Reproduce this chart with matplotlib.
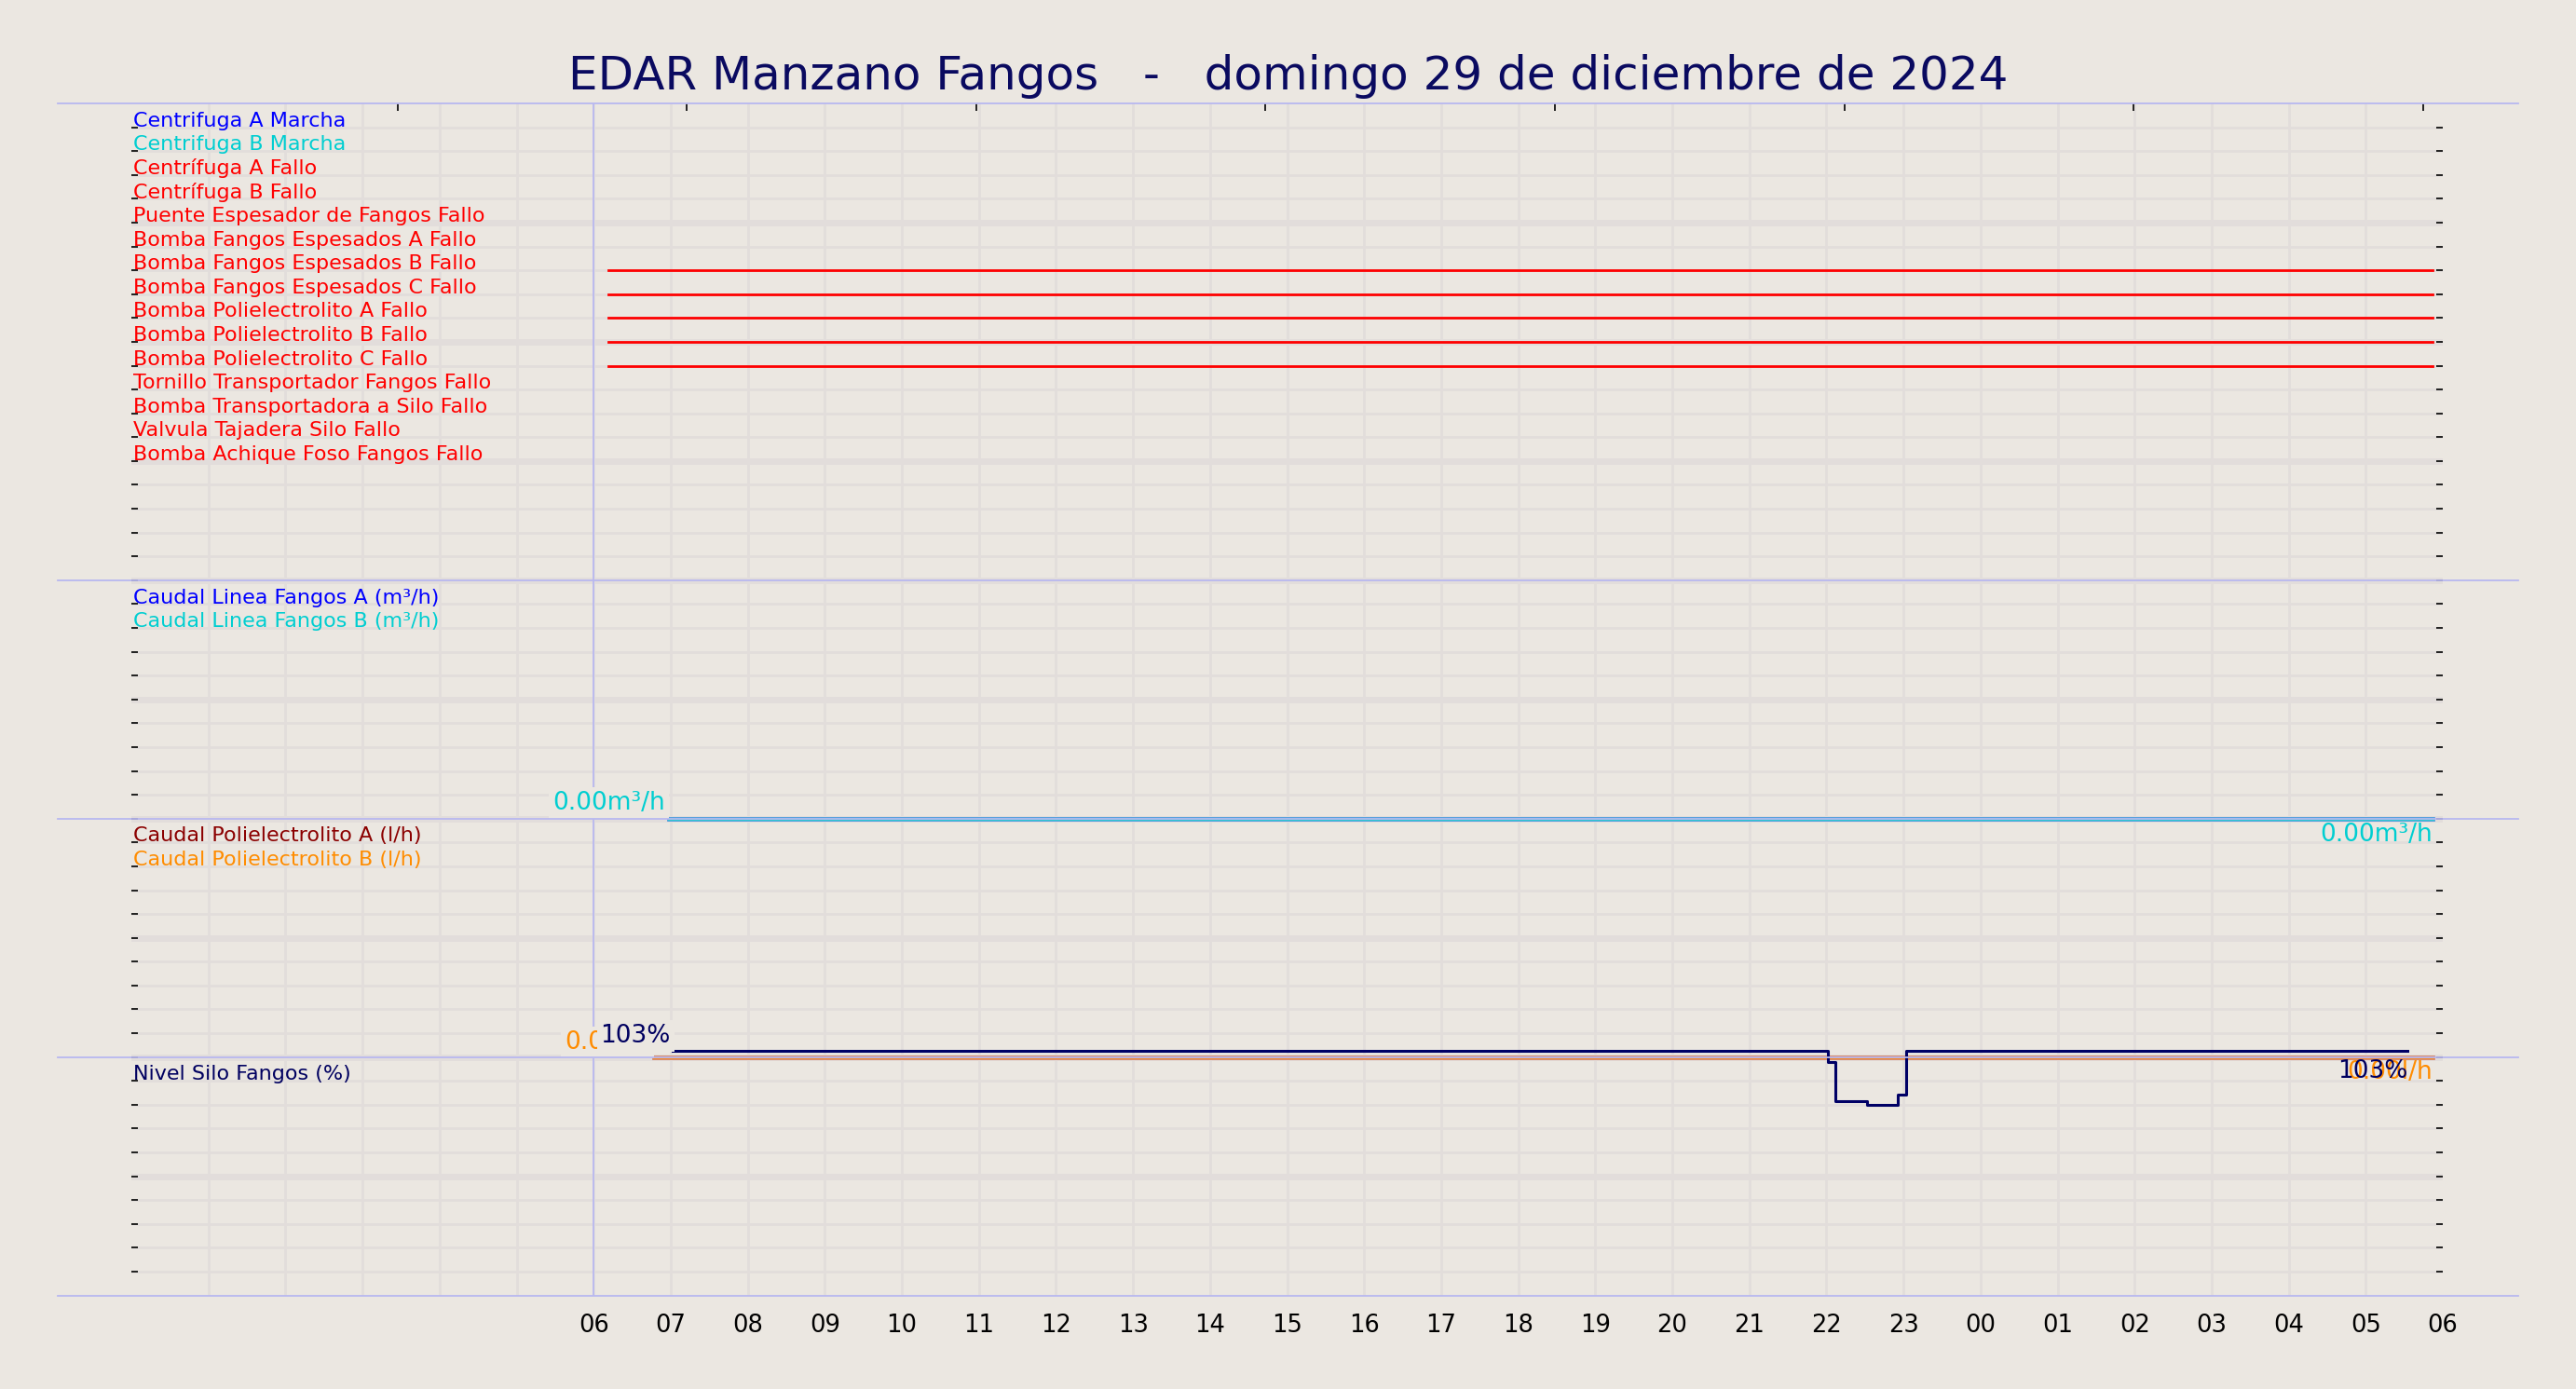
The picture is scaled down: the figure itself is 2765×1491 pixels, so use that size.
import matplotlib
matplotlib.use("Agg")
import matplotlib.pyplot as plt
from matplotlib.lines import Line2D
import numpy as np

BG = "#ebe7e1"
GRID = "#e2dddb"
SEP = "#b8b8f0"

TITLE = "EDAR Manzano Fangos   -   domingo 29 de diciembre de 2024"
TICK_LABELS = ["06", "07", "08", "09", "10", "11", "12", "13", "14", "15", "16", "17", "18",
               "19", "20", "21", "22", "23", "00", "01", "02", "03", "04", "05", "06"]

# panel 1: digital signals (row index from top, label, colour)
DIGITAL_LABELS = [
    "Centrifuga A Marcha", "Centrifuga B Marcha", "Centrífuga A Fallo", "Centrífuga B Fallo",
    "Puente Espesador de Fangos Fallo", "Bomba Fangos Espesados A Fallo",
    "Bomba Fangos Espesados B Fallo", "Bomba Fangos Espesados C Fallo",
    "Bomba Polielectrolito A Fallo", "Bomba Polielectrolito B Fallo",
    "Bomba Polielectrolito C Fallo", "Tornillo Transportador Fangos Fallo",
    "Bomba Transportadora a Silo Fallo", "Valvula Tajadera Silo Fallo",
    "Bomba Achique Foso Fangos Fallo",
]
DIGITAL_COLORS = ["blue", "darkturquoise"] + ["red"] * 13
ACTIVE_ROWS = [6, 7, 8, 9, 10]          # signals on during the day
ACTIVE_START, ACTIVE_END = 6.19, 29.87  # hours since 00:00

# panel 2: caudal linea fangos (m3/h)
LINEA_T = [6.98, 29.87]
LINEA_A = [0.0, 0.0]
LINEA_B = [0.0, 0.0]

# panel 3: caudal polielectrolito (l/h)
POLI_T = [6.78, 29.87]
POLI_A = [0.0, 0.0]
POLI_B = [0.0, 0.0]

# panel 4: nivel silo (%)
SILO_T = [7.02, 22.02, 22.12, 22.53, 22.93, 23.03, 29.54]
SILO_V = [102.6, 97.8, 81.5, 79.9, 84.3, 102.6, 102.6]

ROWS = 50  # total rows: 20 + 10 + 10 + 10


def to_y(value, bottom_row, vmin, vmax, nrows=10):
    # rows counted from the top; panel spans [bottom_row - nrows, bottom_row]
    frac = (np.asarray(value) - vmin) / (vmax - vmin)
    return ROWS - bottom_row + frac * nrows


fig = plt.figure(figsize=(27.65, 14.91), dpi=100, facecolor=BG)
ax = fig.add_axes([0.051, 0.0674, 0.8973, 0.8581], facecolor=BG)
ax.set_xlim(0, 30)
ax.set_ylim(0, ROWS)
for s in ax.spines.values():
    s.set_visible(False)

# grid
for h in range(1, 30):
    ax.axvline(h, color=GRID, lw=2, zorder=0)
for r in range(1, ROWS):
    ax.axhline(r, color=GRID, lw=5 if r % 5 == 0 else 2, zorder=0)
ax.axvline(6, color=SEP, lw=1.3, zorder=1)

ax.set_xticks(np.arange(6, 31))
ax.set_xticklabels(TICK_LABELS, fontsize=18.5)
ax.tick_params(axis="x", length=0, pad=14)
ax.set_yticks(np.arange(1, ROWS))
ax.set_yticklabels([])
ax.tick_params(axis="y", left=True, right=True, direction="in",
               length=5, width=1.2, colors="black")

top = ax.secondary_xaxis("top")
top.set_xticks(3.456 + 3.755 * np.arange(8))
top.set_xticklabels([])
top.tick_params(direction="in", length=6, width=1.2)
top.spines["top"].set_visible(False)

# separators across the figure
pos = ax.get_position()
for r in [0, 10, 20, 30, 50]:
    yf = pos.y0 + pos.height * r / ROWS
    fig.add_artist(Line2D([0.0223, 0.9777], [yf, yf], color=SEP, lw=1.3))

label_font = dict(fontsize=16, va="bottom", ha="left")
txt_x = 0.02
off = -0.12

# panel 1
for i, (lab, col) in enumerate(zip(DIGITAL_LABELS, DIGITAL_COLORS)):
    ax.text(txt_x, ROWS - (i + 1) + off, lab, color=col, **label_font)
for i in ACTIVE_ROWS:
    y = ROWS - (i + 1)
    ax.plot([ACTIVE_START, ACTIVE_END], [y, y], color="red", lw=2, zorder=3)

# panel 2
ax.text(txt_x, ROWS - 21 + off, "Caudal Linea Fangos A (m³/h)", color="blue", **label_font)
ax.text(txt_x, ROWS - 22 + off, "Caudal Linea Fangos B (m³/h)", color="darkturquoise", **label_font)
ax.plot(LINEA_T, to_y(LINEA_A, 30, 0, 100), color="#4a90e0", lw=3.4, zorder=3)
ax.plot(LINEA_T, to_y(LINEA_B, 30, 0, 100), color="#30c8d0", lw=2.4, zorder=3)
box = dict(boxstyle="square,pad=0.15", fc=BG, ec="none")
ax.text(LINEA_T[0] - 0.05, to_y(LINEA_B[0], 30, 0, 100) + 0.15, f"{LINEA_B[0]:.2f}m³/h",
        color="darkturquoise", fontsize=19, ha="right", va="bottom", bbox=box, zorder=4)
ax.text(LINEA_T[-1], to_y(LINEA_B[-1], 30, 0, 100) - 0.15, f"{LINEA_B[-1]:.2f}m³/h",
        color="darkturquoise", fontsize=19, ha="right", va="top", zorder=4)

# panel 3
ax.text(txt_x, ROWS - 31 + off, "Caudal Polielectrolito A (l/h)", color="darkred", **label_font)
ax.text(txt_x, ROWS - 32 + off, "Caudal Polielectrolito B (l/h)", color="darkorange", **label_font)
ax.plot(POLI_T, to_y(POLI_A, 40, 0, 100), color="#d08070", lw=3.4, zorder=3)
ax.plot(POLI_T, to_y(POLI_B, 40, 0, 100), color="#f08a30", lw=2.4, zorder=3)
ax.text(POLI_T[0] - 0.05, to_y(POLI_B[0], 40, 0, 100) + 0.1, f"{POLI_B[0]:.2f}l/h",
        color="darkorange", fontsize=19, ha="right", va="bottom", bbox=box, zorder=4)
ax.text(POLI_T[-1], to_y(POLI_B[-1], 40, 0, 100) - 0.15, f"{POLI_B[-1]:.2f}l/h",
        color="darkorange", fontsize=19, ha="right", va="top", zorder=4)

# panel 4
ax.text(txt_x, ROWS - 41 + off, "Nivel Silo Fangos (%)", color="#000060", **label_font)
ax.step(SILO_T, to_y(SILO_V, 50, 0, 100), where="post", color="#000066", lw=2.2, zorder=5)
ax.text(SILO_T[0] - 0.02, to_y(SILO_V[0], 50, 0, 100) + 0.1, f"{SILO_V[0]:.0f}%",
        color="#000060", fontsize=19, ha="right", va="bottom", bbox=box, zorder=6)
ax.text(SILO_T[-1], to_y(SILO_V[-1], 50, 0, 100) - 0.35, f"{SILO_V[-1]:.0f}%",
        color="#000060", fontsize=19, ha="right", va="top", zorder=6)

fig.text(0.5, 0.945, TITLE, ha="center", va="center", fontsize=36, color="#0a0a60")

fig.savefig("out.png", dpi=100, facecolor=BG)
